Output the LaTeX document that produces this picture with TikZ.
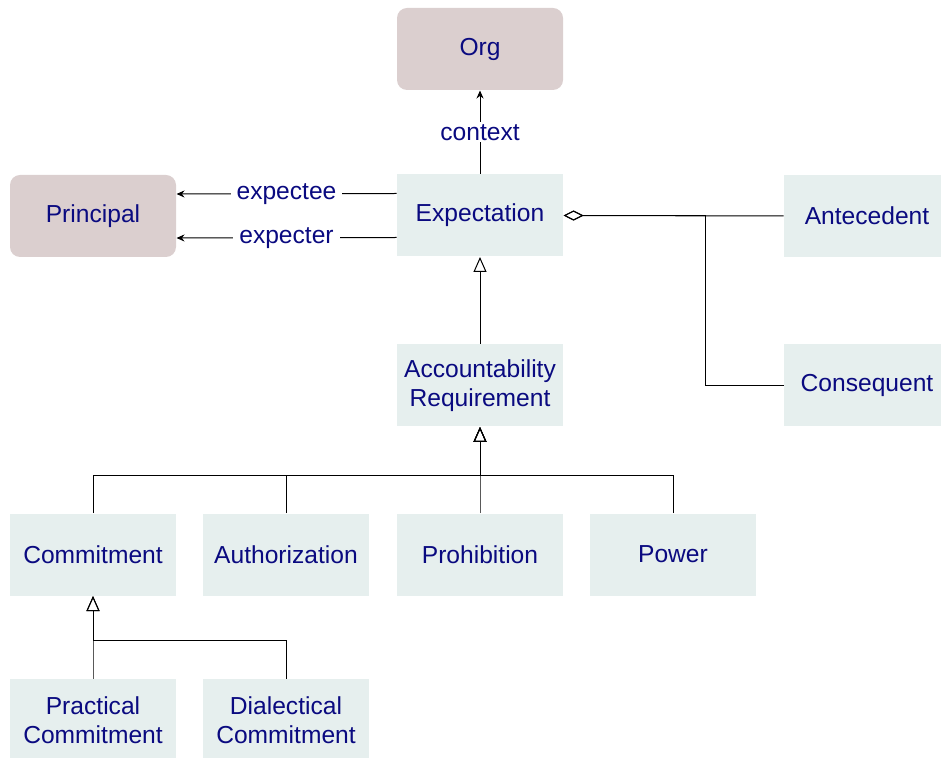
\documentclass[tikz,border=0pt]{standalone}
\usepackage{fontspec}
\setmainfont{Liberation Sans}
\usetikzlibrary{arrows.meta}
\definecolor{boxfill}{HTML}{E6EFEE}
\definecolor{rolefill}{HTML}{DBCFCF}
\definecolor{txt}{HTML}{0A0A80}
\tikzset{
  cls/.style={fill=boxfill, minimum width=83pt, minimum height=41pt, inner sep=2pt,
    text=txt, align=center, font=\fontsize{12.3}{14.5}\selectfont},
  role/.style={cls, fill=rolefill, rounded corners=5pt},
  lbl/.style={fill=white, text=txt, inner xsep=3pt, inner ysep=1pt, font=\fontsize{12.3}{14.5}\selectfont},
  gen/.style={-{Triangle[open,length=7.5pt,width=6.5pt]}},
  agg/.style={{Diamond[open,length=10pt,width=5pt]}-}
}
\begin{document}
\begin{tikzpicture}[x=0.5pt,y=-0.5pt,>={Stealth[length=4pt,width=3.5pt]},line width=0.5pt]
\useasboundingbox (0,0) rectangle (941,758);
% roles
\node[role] (org) at (480,49) {Org};
\node[role] (principal) at (93,216) {Principal};
% expectations
\node[cls] (expectation) at (480,215.5) {Expectation};
\node[cls] (antecedent) at (867,216) {Antecedent};
\node[cls] (accreq) at (480,385.5) {Accountability\\Requirement};
\node[cls] (consequent) at (867,385.5) {Consequent};
% kinds
\node[cls] (commitment) at (93,554.5) {Commitment};
\node[cls] (authorization) at (286,554.5) {Authorization};
\node[cls] (prohibition) at (480,554.5) {Prohibition};
\node[cls] (power) at (673,554.5) {Power};
\node[cls] (practical) at (93,720) {Practical\\Commitment};
\node[cls] (dialectical) at (286,720) {Dialectical\\Commitment};

\draw[->] (expectation) -- node[lbl]{context} (org);
\draw[->] ([yshift=11pt]expectation.west) -- node[lbl]{expectee} ([yshift=11pt]principal.east);
\draw[->] ([yshift=-11pt]expectation.west) -- node[lbl]{expecter} ([yshift=-11pt]principal.east);

\draw[agg] (expectation.east) -- (antecedent.west);
\draw[agg] (expectation.east) -- ++(142,0) |- (consequent.west);

\draw[gen] (accreq) -- (expectation);
\foreach \n in {commitment,authorization,prohibition,power}
{
    \draw[gen] (\n.north) -- ++(0,-38) -| (accreq.south);
}
\foreach \n in {practical,dialectical}
{
    \draw[gen] (\n.north) -- ++(0,-38) -| (commitment.south);
}
\end{tikzpicture}
\end{document}
